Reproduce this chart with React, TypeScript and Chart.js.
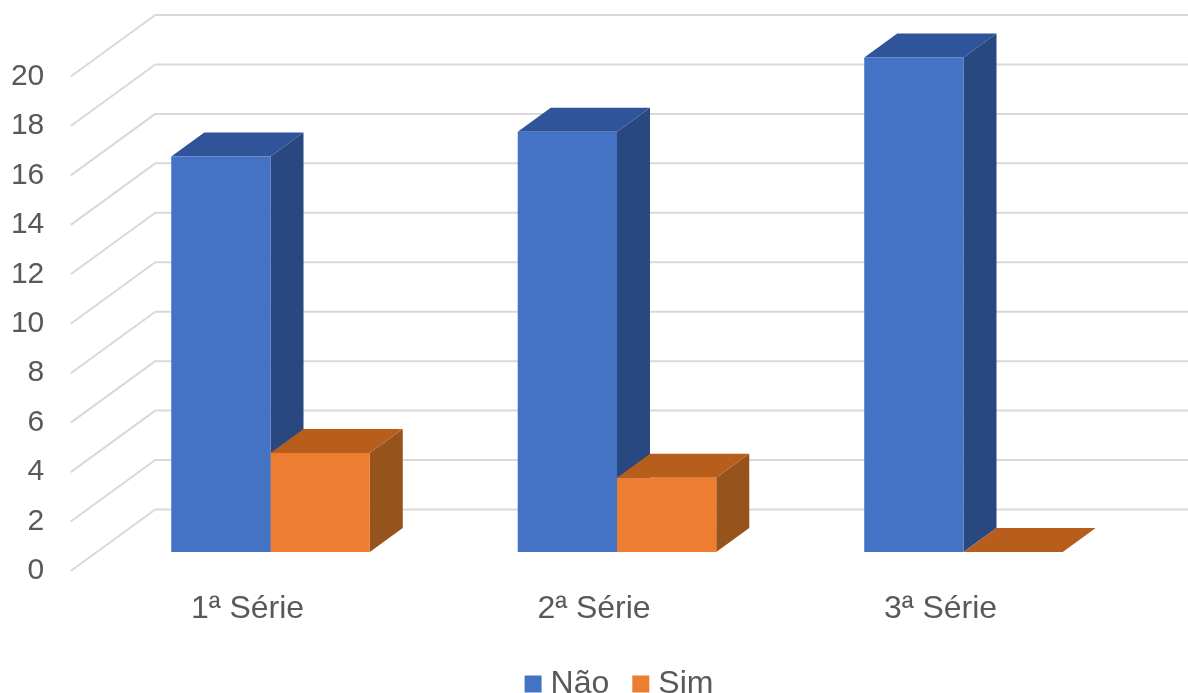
import React, { useEffect, useRef } from "react";
import { Chart, registerables } from "chart.js";

Chart.register(...registerables);

const categories = ["1ª Série", "2ª Série", "3ª Série"];
const naoValues = [16, 17, 20];
const simValues = [4, 3, 0];
const yMin = 0;
const yMax = 20;
const yStep = 2;

const FONT = "'Liberation Sans', Arial, sans-serif";
const TEXT = "#595959";
const GRID = "#D9D9D9";
const NAO = { front: "#4472C4", top: "#30549A", side: "#28487F" };
const SIM = { front: "#ED7D31", top: "#B85E1D", side: "#97531C" };
const seriesFaces = [NAO, SIM];

// Plane of the bars relative to the axis plane
const BAR_DX = 23;
const BAR_DY = -19;
// Depth of a bar
const DEPTH_X = 33;
const DEPTH_Y = -24;
// Side wall of the chart
const WALL_START = -3.5;
const WALL_X = 81;
const WALL_Y = -61.5;

const poly = (ctx: CanvasRenderingContext2D, pts: number[][], fill: string) => {
  ctx.beginPath();
  pts.forEach(([x, y], i) => (i ? ctx.lineTo(x, y) : ctx.moveTo(x, y)));
  ctx.closePath();
  ctx.fillStyle = fill;
  ctx.fill();
};

const wall3d = {
  id: "wall3d",
  beforeDatasetsDraw(chart: any) {
    const { ctx, chartArea, scales, width } = chart;
    ctx.save();
    ctx.strokeStyle = GRID;
    ctx.lineWidth = 2;
    ctx.lineJoin = "round";
    scales.y.ticks.forEach((t: any) => {
      const y = scales.y.getPixelForValue(t.value);
      ctx.beginPath();
      ctx.moveTo(chartArea.left + WALL_START, y);
      ctx.lineTo(chartArea.left + WALL_X, y + WALL_Y);
      ctx.lineTo(width, y + WALL_Y);
      ctx.stroke();
    });
    ctx.restore();

    ctx.save();
    ctx.translate(BAR_DX, BAR_DY);
    chart.data.datasets.forEach((_: any, di: number) => {
      const faces = seriesFaces[di];
      chart.getDatasetMeta(di).data.forEach((el: any) => {
        const l = el.x - el.width / 2;
        const r = el.x + el.width / 2;
        poly(ctx, [[r, el.y], [r + DEPTH_X, el.y + DEPTH_Y], [r + DEPTH_X, el.base + DEPTH_Y], [r, el.base]], faces.side);
        poly(ctx, [[l, el.y], [l + DEPTH_X, el.y + DEPTH_Y], [r + DEPTH_X, el.y + DEPTH_Y], [r, el.y]], faces.top);
      });
    });
  },
  afterDatasetsDraw(chart: any) {
    chart.ctx.restore();
  },
};

export default function App() {
  const ref = useRef<HTMLCanvasElement>(null);
  useEffect(() => {
    const chart = new Chart(ref.current!, {
      type: "bar",
      plugins: [wall3d],
      data: {
        labels: categories,
        datasets: [
          { label: "Não", data: naoValues, backgroundColor: NAO.front, clip: false as any },
          { label: "Sim", data: simValues, backgroundColor: SIM.front, clip: false as any },
        ],
      },
      options: {
        responsive: false,
        animation: false,
        layout: { padding: { top: 76.5, left: 0, right: 0, bottom: 0 } },
        datasets: { bar: { categoryPercentage: 0.573, barPercentage: 1 } },
        scales: {
          x: {
            grid: { display: false, drawTicks: false },
            border: { display: false },
            ticks: { color: TEXT, font: { family: FONT, size: 32 }, padding: 19, maxRotation: 0, autoSkip: false },
            afterFit: (axis: any) => { axis.height = 67; },
          },
          y: {
            min: yMin,
            max: yMax,
            grid: { display: false, drawTicks: false },
            border: { display: false },
            ticks: { color: TEXT, font: { family: FONT, size: 30 }, padding: 30, stepSize: yStep },
            afterFit: (axis: any) => { axis.width = 74.25; },
          },
          spacer: {
            axis: "y",
            position: "right",
            grid: { display: false, drawTicks: false },
            border: { display: false },
            ticks: { display: false },
            afterFit: (axis: any) => { axis.width = 131.25; },
          },
        },
        plugins: {
          tooltip: { enabled: false },
          legend: {
            position: "bottom",
            labels: {
              color: TEXT,
              font: { family: FONT, size: 32 },
              usePointStyle: true,
              pointStyle: "rect",
              boxWidth: 3,
              boxHeight: 17,
              padding: 30,
            },
          },
        },
      } as any,
    });
    return () => chart.destroy();
  }, []);
  return (
    <div style={{ position: "absolute", left: 0, top: 0, width: 1188, height: 693, overflow: "hidden", background: "#fff" }}>
      <canvas ref={ref} width={1245} height={710} style={{ display: "block" }} />
    </div>
  );
}
